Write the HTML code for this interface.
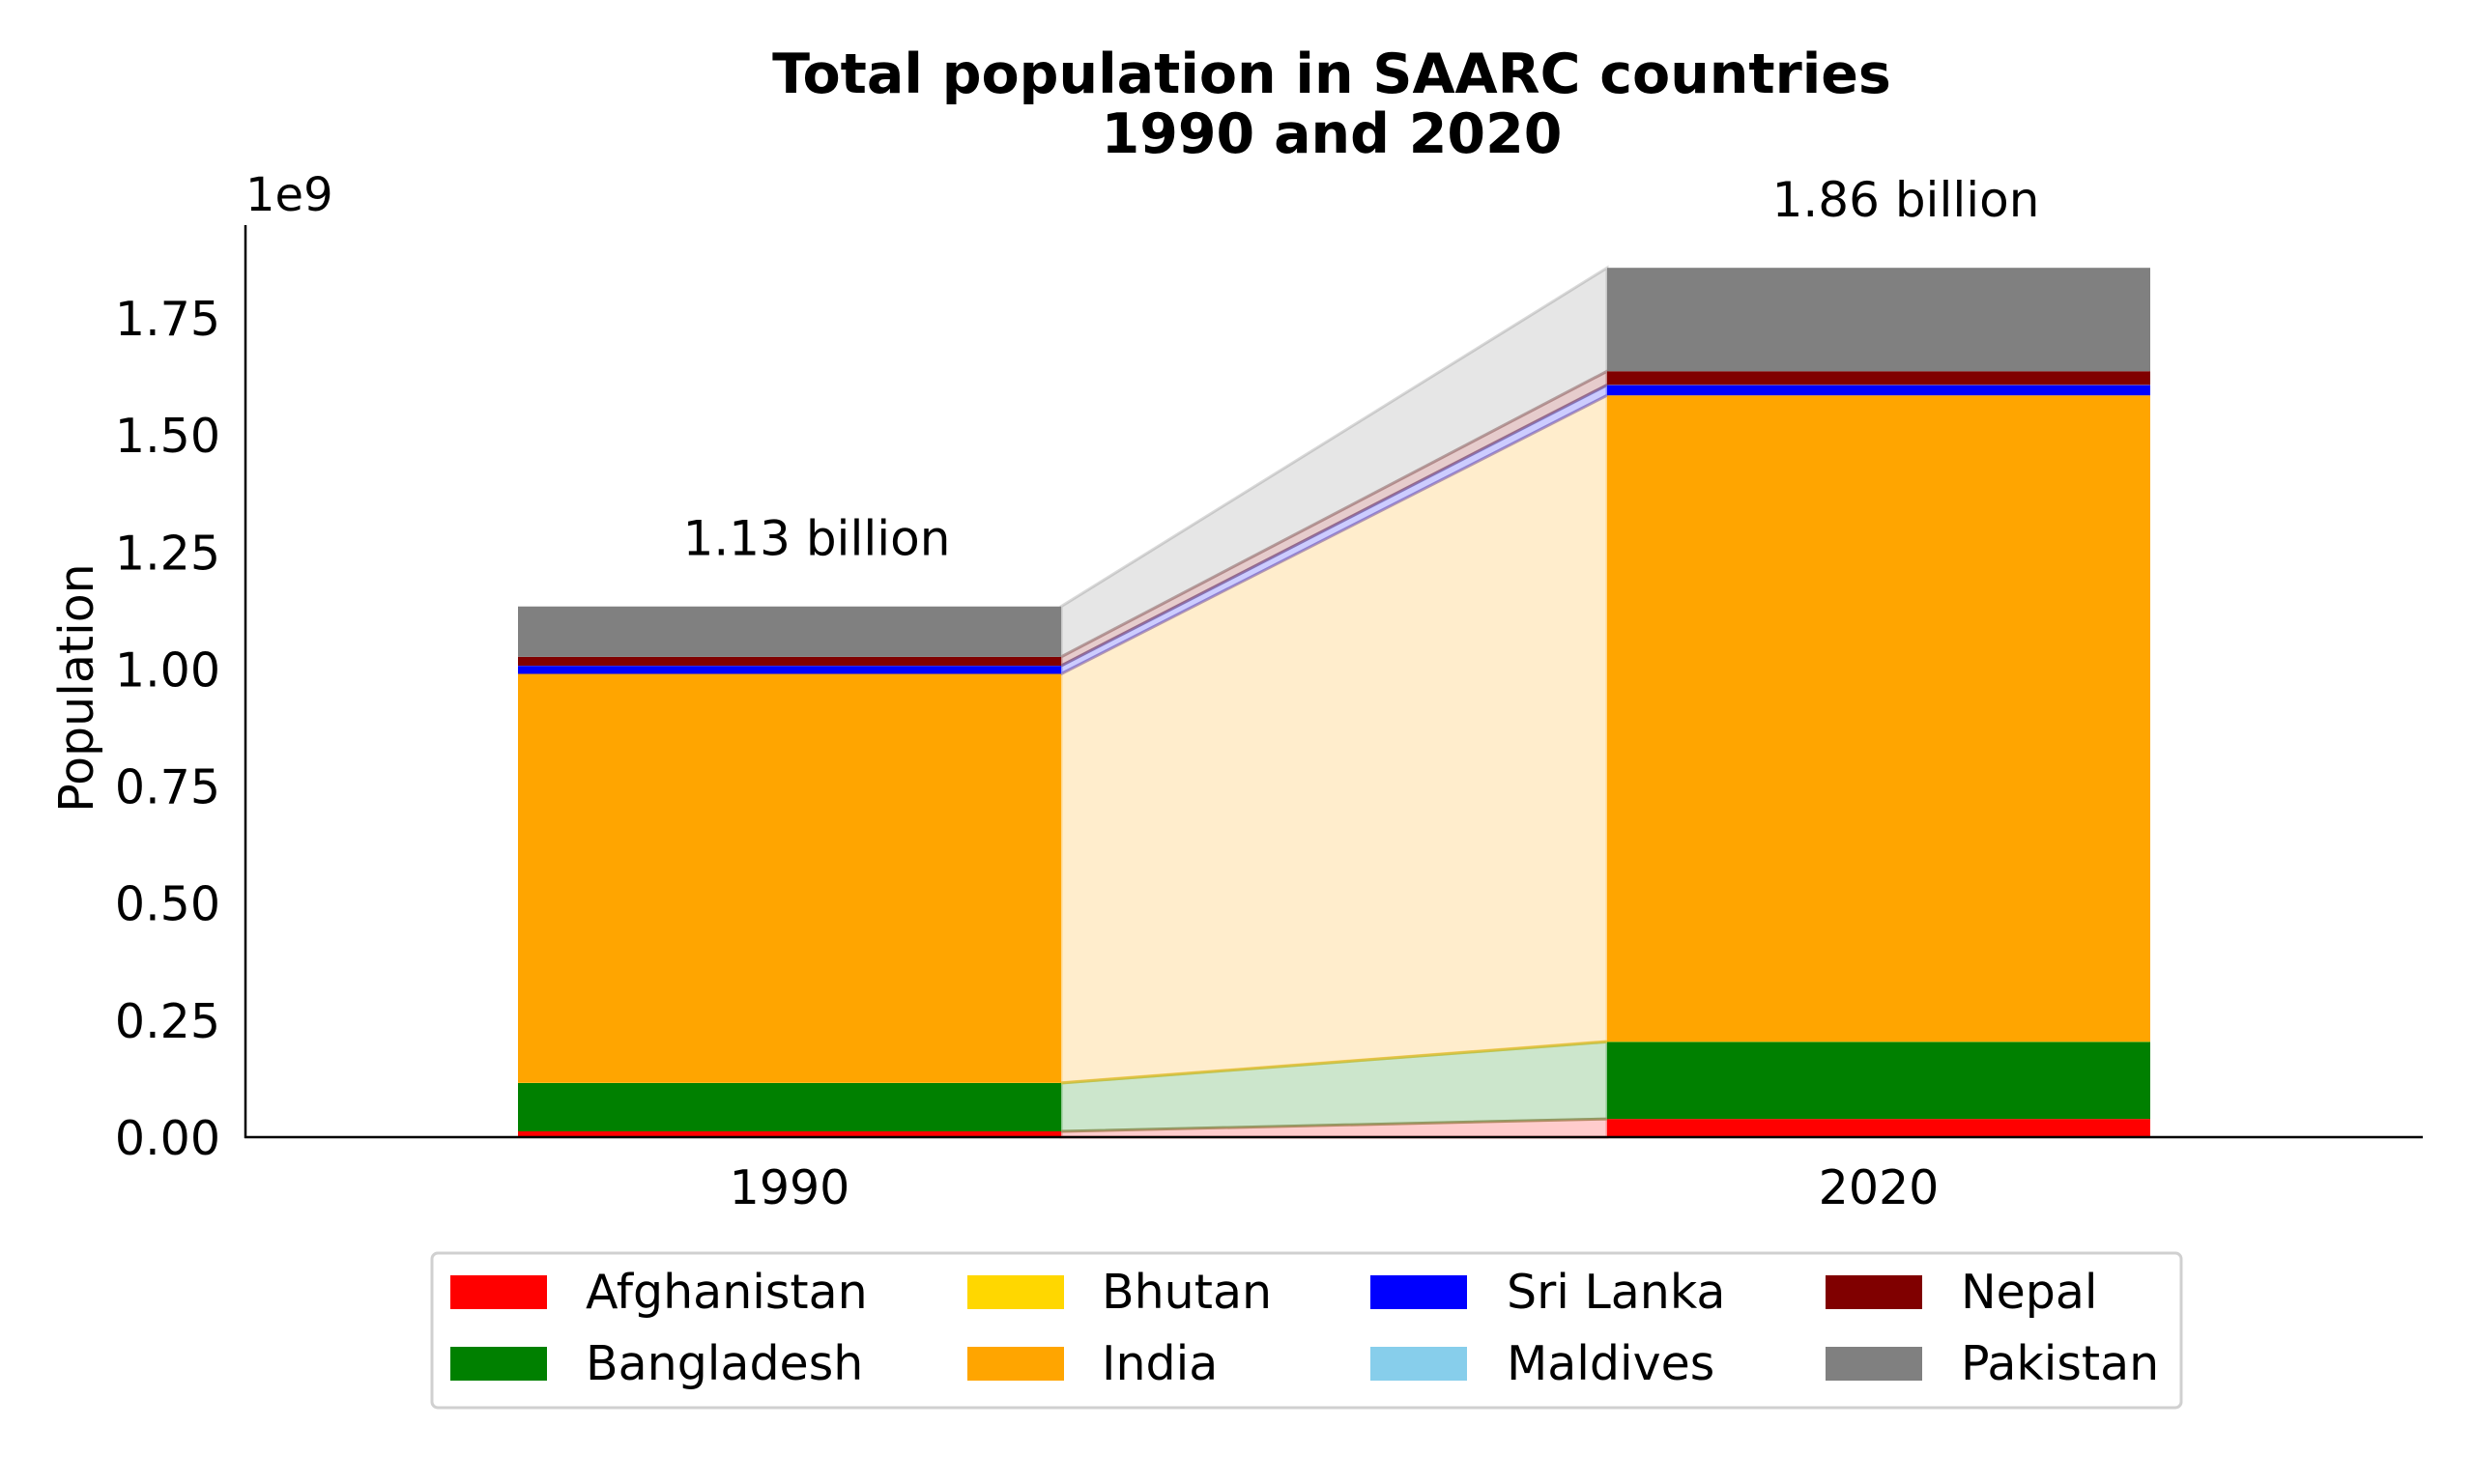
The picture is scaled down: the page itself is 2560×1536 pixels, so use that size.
<!DOCTYPE html>
<html><head><meta charset="utf-8"><style>
html,body{margin:0;padding:0;background:#fff;}
svg{display:block;font-family:"DejaVu Sans","Liberation Sans",sans-serif;}
</style></head><body>
<svg id="chart" width="2560" height="1536" viewBox="0 0 2560 1536" xmlns="http://www.w3.org/2000/svg">
<text x="1378" y="96" text-anchor="middle" font-size="57" font-weight="bold">Total population in SAARC countries</text>
<text x="1378" y="158" text-anchor="middle" font-size="57" font-weight="bold">1990 and 2020</text>
<g id="plot"></g>
</svg>
<script>
const years = ['1990', '2020'];
const countries = ['Afghanistan','Bangladesh','Bhutan','India','Sri Lanka','Maldives','Nepal','Pakistan'];
const colors = ['#ff0000','#008000','#ffd700','#ffa500','#0000ff','#87ceeb','#800000','#808080'];
const pop1990 = [12.4e6, 103.2e6, 0.55e6, 873.3e6, 17.3e6, 0.22e6, 18.9e6, 107.6e6];
const pop2020 = [38.9e6, 164.7e6, 0.77e6, 1380.0e6, 21.9e6, 0.54e6, 29.1e6, 220.9e6];
const totalLabels = ['1.13 billion', '1.86 billion'];
const yTicks = [0, 0.25e9, 0.5e9, 0.75e9, 1.0e9, 1.25e9, 1.5e9, 1.75e9];
const yTickLabels = ['0.00','0.25','0.50','0.75','1.00','1.25','1.50','1.75'];

const NS = 'http://www.w3.org/2000/svg';
const plot = document.getElementById('plot');
const X0 = 254, X1 = 2507, Y0 = 1177, PX_PER = 484.6 / 1e9, YTOP = 233;
const barW = 562;
const barCenters = [817, 1944];
function y(v){ return Y0 - v * PX_PER; }
function mk(tag, attrs){ const e = document.createElementNS(NS, tag); for (const k in attrs) e.setAttribute(k, attrs[k]); plot.appendChild(e); return e; }

const series = [pop1990, pop2020];
const cum = series.map(s => { let c = 0; return s.map(v => { const b = c; c += v; return [b, c]; }); });

for (let i = 0; i < countries.length; i++) {
  const xa = barCenters[0] + barW/2, xb = barCenters[1] - barW/2;
  const p = mk('polygon', {points: `${xa},${y(cum[0][i][0])} ${xb},${y(cum[1][i][0])} ${xb},${y(cum[1][i][1])} ${xa},${y(cum[0][i][1])}`,
    fill: colors[i], 'fill-opacity': 0.2, stroke: colors[i], 'stroke-opacity': 0.3, 'stroke-width': 3});
  
  
}
for (let j = 0; j < years.length; j++) {
  for (let i = 0; i < countries.length; i++) {
    const [b, t] = cum[j][i];
    const r = mk('rect', {x: barCenters[j] - barW/2, y: y(t), width: barW, height: Math.max(0, y(b) - y(t)), fill: colors[i]});
    
    
  }
  const tot = cum[j][countries.length - 1][1];
  const t = mk('text', {x: barCenters[j] + 28, y: y(tot) - 53, 'text-anchor': 'middle', 'font-size': 50});
  t.textContent = totalLabels[j];
  
  
  const xl = mk('text', {x: barCenters[j], y: 1246, 'text-anchor': 'middle', 'font-size': 49});
  xl.textContent = years[j];
  
  
}
const ya = mk('line', {x1: X0, y1: YTOP, x2: X0, y2: Y0 + 1, stroke: '#000', 'stroke-width': 2.5});


const xa = mk('line', {x1: X0 - 1, y1: Y0, x2: X1, y2: Y0, stroke: '#000', 'stroke-width': 2.5});


yTicks.forEach((v, k) => {
  const t = mk('text', {x: 228, y: y(v) + 18, 'text-anchor': 'end', 'font-size': 49});
  t.textContent = yTickLabels[k];
  
  
});
const off = mk('text', {x: 254, y: 218, 'font-size': 48});
off.textContent = '1e9';


const yl = mk('text', {x: 0, y: 0, 'text-anchor': 'middle', 'font-size': 49, transform: 'translate(96,712) rotate(-90)'});
yl.textContent = 'Population';



const lb = mk('rect', {x: 447, y: 1297, width: 1810, height: 160, rx: 6, fill: '#fff', stroke: '#d0d0d0', 'stroke-width': 3});


const colPatchX = [466, 1001, 1418, 1889];
const colTextX = [606, 1140, 1559, 2029];
const rowY = [1337, 1411];
countries.forEach((c, i) => {
  const col = Math.floor(i / 2), row = i % 2;
  const p = mk('rect', {x: colPatchX[col], y: rowY[row] - 17, width: 100, height: 35, fill: colors[i]});
  
  
  const t = mk('text', {x: colTextX[col], y: rowY[row] + 17, 'font-size': 49});
  t.textContent = c;
  
  
});
</script>
</body></html>
